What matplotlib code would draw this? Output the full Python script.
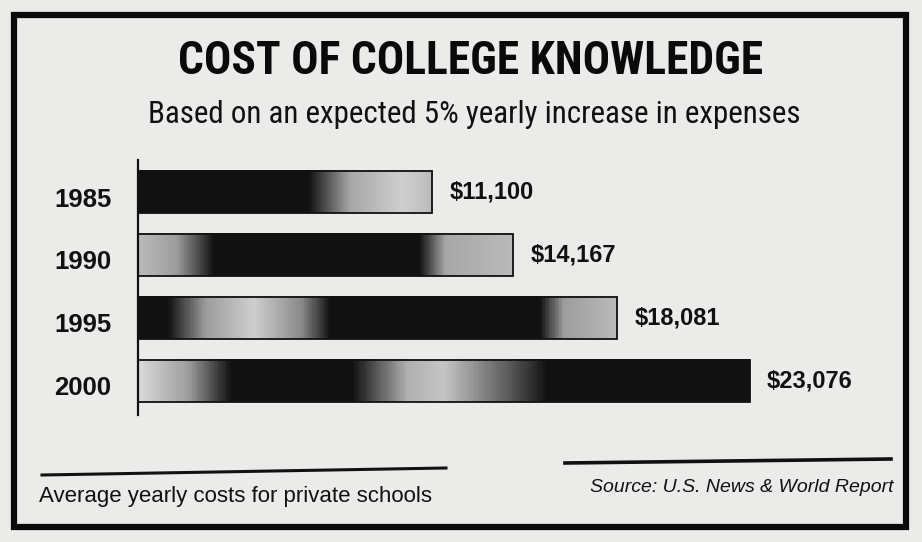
import numpy as np
import matplotlib.pyplot as plt
from matplotlib.patches import Rectangle
from matplotlib.colors import LinearSegmentedColormap
from matplotlib.transforms import ScaledTranslation

# ------------------------------------------------------------
# data
# ------------------------------------------------------------
years = ['1985', '1990', '1995', '2000']
costs = [11100, 14167, 18081, 23076]
cost_labels = ['$11,100', '$14,167', '$18,081', '$23,076']

title = 'COST OF COLLEGE KNOWLEDGE'
subtitle = 'Based on an expected 5% yearly increase in expenses'
note = 'Average yearly costs for private schools'
source = 'Source: U.S. News & World Report'

# shading along each bar: (position 0..1, lightness 0=black 1=light)
shades = [
    [(0, 0), (0.58, 0), (0.72, 0.75), (0.9, 0.95), (1, 0.85)],
    [(0, 0.85), (0.1, 0.7), (0.2, 0), (0.75, 0), (0.82, 0.75), (1, 0.85)],
    [(0, 0), (0.06, 0), (0.14, 0.7), (0.24, 0.95), (0.34, 0.6), (0.4, 0), (0.84, 0), (0.89, 0.7), (1, 0.85)],
    [(0, 1), (0.08, 0.7), (0.15, 0), (0.35, 0), (0.44, 0.8), (0.5, 0.9), (0.6, 0.4), (0.67, 0), (1, 0)],
]

W, H = 922, 542
BG = '#ebebea'
INK = '#111111'
cond = ['Roboto Condensed', 'DejaVu Sans']
helv = ['Liberation Sans', 'DejaVu Sans']


def fx(x):
    return x / W


def fy(y):
    return 1 - y / H


fig = plt.figure(figsize=(W / 100, H / 100), dpi=100, facecolor=BG)

# border
fig.patches.append(Rectangle((fx(14), fy(527)), fx(906) - fx(14), fy(15) - fy(527),
                             transform=fig.transFigure, fill=False,
                             edgecolor='#0a0a0a', linewidth=4.5))

fig.text(fx(471), fy(74), title, ha='center', va='baseline', fontsize=32.8,
         fontweight='bold', family=cond, stretch='condensed', color='#0a0a0a')
fig.text(fx(474), fy(123), subtitle, ha='center', va='baseline', fontsize=22.3,
         family=cond, stretch='condensed', color=INK)

# bars
ax = fig.add_axes([fx(138), fy(415), fx(880) - fx(138), fy(160) - fy(415)])
ax.set_facecolor('none')
for s in ['top', 'right', 'bottom']:
    ax.spines[s].set_visible(False)
ax.spines['left'].set_linewidth(1.6)
ax.spines['left'].set_color(INK)
ax.set_xticks([])
ax.set_yticks(range(len(years)))
ax.set_yticklabels(years, fontsize=18.5, fontweight='bold', family=helv, color=INK)
ax.tick_params(axis='y', length=0, pad=19)
shift = ScaledTranslation(0, -0.05, fig.dpi_scale_trans)
for lab in ax.get_yticklabels():
    lab.set_transform(lab.get_transform() + shift)

h = 0.67
for i, (v, lab, sh) in enumerate(zip(costs, cost_labels, shades)):
    cmap = LinearSegmentedColormap.from_list(
        f'bar{i}', [(p, (0.07 + 0.78 * l,) * 3) for p, l in sh])
    grad = np.linspace(0, 1, 400).reshape(1, -1)
    ax.imshow(grad, cmap=cmap, aspect='auto', vmin=0, vmax=1,
              extent=(0, v, i + h / 2, i - h / 2), interpolation='bilinear', zorder=2)
    ax.add_patch(Rectangle((0, i - h / 2), v, h, fill=False, edgecolor=INK,
                           linewidth=1.3, zorder=3))
    ax.text(v + 650, i, lab, ha='left', va='center', fontsize=17,
            fontweight='bold', family=helv, color=INK)
ax.set_xlim(0, 28000)
ax.set_ylim(3.54, -0.508)

# footer rules and notes
fig.add_artist(plt.Line2D([fx(42), fx(446)], [fy(475), fy(468)], transform=fig.transFigure,
                          color=INK, linewidth=2.2))
fig.add_artist(plt.Line2D([fx(565), fx(891)], [fy(463), fy(459)], transform=fig.transFigure,
                          color=INK, linewidth=2.6))
fig.text(fx(39), fy(502), note, ha='left', va='baseline', fontsize=16,
         family=helv, color=INK)
fig.text(fx(893), fy(492), source, ha='right', va='baseline', fontsize=14,
         family=helv, style='italic', color=INK)

fig.savefig('out.png', dpi=100, facecolor=BG)
